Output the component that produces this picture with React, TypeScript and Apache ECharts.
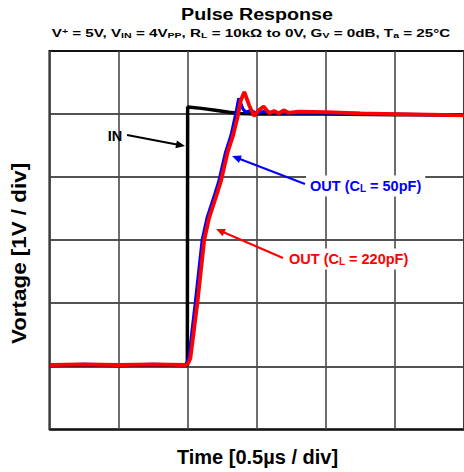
import React, { useEffect, useRef } from "react";
import * as echarts from "echarts";

// Axis ranges in divisions (x: 0.5 µs/div, y: 1 V/div)
const xDivs = [0, 1, 2, 3, 4, 5, 6];
const yDivs = [0, 1, 2, 3, 4, 5, 6];

// Input pulse (black)
const inputPulse: [number, number][] = [
  [0, 1.01], [0.5, 1.02], [1.0, 1.01], [1.5, 1.02], [1.995, 1.01],
  [2.0, 5.11], [2.2, 5.09], [2.4, 5.06], [2.6, 5.03], [2.75, 5.01],
  [3.0, 5.0], [4.0, 5.0], [5.0, 4.99], [6.0, 4.99],
];

// Output, CL = 50pF (blue)
const out50pF: [number, number][] = [
  [0, 1.02], [0.5, 1.03], [1.0, 1.02], [1.5, 1.03], [1.96, 1.02],
  [1.99, 1.06], [2.02, 1.15], [2.11, 2.0], [2.21, 3.0], [2.28, 3.35],
  [2.39, 3.72], [2.45, 3.93], [2.55, 4.4], [2.63, 4.67], [2.69, 4.97],
  [2.74, 5.25], [2.8, 5.08], [2.84, 5.03], [2.92, 5.06], [2.99, 5.01],
  [3.1, 5.04], [3.3, 5.02], [4.0, 5.02], [5.0, 5.0], [6.0, 4.98],
];

// Output, CL = 220pF (red)
const out220pF: [number, number][] = [
  [0, 1.02], [0.5, 1.03], [1.0, 1.02], [1.5, 1.03], [1.97, 1.02],
  [2.01, 1.05], [2.04, 1.13], [2.14, 2.0], [2.24, 3.0], [2.31, 3.35],
  [2.42, 3.72], [2.48, 3.93], [2.58, 4.4], [2.66, 4.67], [2.72, 4.94],
  [2.77, 5.22], [2.82, 5.35], [2.89, 5.14], [2.96, 4.97], [3.03, 5.06],
  [3.1, 5.12], [3.18, 5.01], [3.25, 5.05], [3.32, 5.01], [3.39, 5.06],
  [3.46, 5.02], [3.6, 5.04], [4.0, 5.03], [4.5, 5.01], [5.0, 5.0],
  [5.5, 4.99], [6.0, 4.98],
];

const titleText = "Pulse Response";
const subtitleText =
  "V{sup|+} = 5V, V{sub|IN} = 4V{sub|PP}, R{sub|L} = 10kΩ to 0V, G{sub|V} = 0dB, T{sub|a} = 25°C";
const xTitle = "Time [0.5µs / div]";
const yTitle = "Vortage [1V / div]";
const inLabel = "IN";
const out50Label = "OUT (C{sub|L} = 50pF)";
const out220Label = "OUT (C{sub|L} = 220pF)";

const FONT = "Liberation Sans, Arial, Helvetica, sans-serif";

function arrow(x1: number, y1: number, x2: number, y2: number, color: string) {
  const dx = x2 - x1;
  const dy = y2 - y1;
  const L = Math.hypot(dx, dy);
  const ux = dx / L;
  const uy = dy / L;
  const hl = 9;
  const hw = 4;
  const bx = x2 - ux * hl;
  const by = y2 - uy * hl;
  return [
    {
      type: "line",
      shape: { x1, y1, x2: bx + ux * 2, y2: by + uy * 2 },
      style: { stroke: color, lineWidth: 2 },
      z: 100,
    },
    {
      type: "polygon",
      shape: {
        points: [
          [x2, y2],
          [bx - uy * hw, by + ux * hw],
          [bx + uy * hw, by - ux * hw],
        ],
      },
      style: { fill: color },
      z: 100,
    },
  ];
}

function labelText(
  text: string,
  x: number,
  y: number,
  color: string,
  align: string,
  bg: boolean
) {
  return {
    type: "text",
    x,
    y,
    z: 100,
    style: {
      text,
      fill: color,
      font: `bold 14.5px ${FONT}`,
      align,
      textAlign: align,
      verticalAlign: "middle",
      textVerticalAlign: "middle",
      backgroundColor: bg ? "#fff" : undefined,
      padding: bg ? [3, 4, 3, 4] : 0,
      rich: {
        sub: {
          fontSize: 10,
          fontWeight: "bold",
          fontFamily: FONT,
          fill: color,
          lineHeight: 10,
          verticalAlign: "bottom",
        },
      },
    },
  };
}

export default function App() {
  const ref = useRef<HTMLDivElement>(null);

  useEffect(() => {
    if (!ref.current) return;
    const chart = echarts.init(ref.current, undefined, { renderer: "svg" });

    const option = {
      animation: false,
      backgroundColor: "#fff",
      grid: {
        left: 49.5,
        top: 51,
        width: 416.5,
        height: 378.3,
        show: true,
        borderColor: "#000",
        borderWidth: 2,
        backgroundColor: "transparent",
        containLabel: false,
      },
      xAxis: {
        type: "value",
        min: xDivs[0],
        max: xDivs[xDivs.length - 1],
        interval: 1,
        axisLine: { show: false },
        axisTick: { show: false },
        axisLabel: { show: false },
        splitLine: { show: true, lineStyle: { color: "#4a4a4a", width: 1.6 } },
      },
      yAxis: {
        type: "value",
        min: yDivs[0],
        max: yDivs[yDivs.length - 1],
        interval: 1,
        axisLine: { show: false },
        axisTick: { show: false },
        axisLabel: { show: false },
        splitLine: { show: true, lineStyle: { color: "#1a1a1a", width: 1.6 } },
      },
      series: [
        {
          type: "line",
          data: inputPulse,
          showSymbol: false,
          symbol: "none",
          lineStyle: { color: "#000", width: 3.5 },
          z: 3,
        },
        {
          type: "line",
          data: out50pF,
          showSymbol: false,
          symbol: "none",
          lineStyle: { color: "#0000ff", width: 3.2 },
          z: 4,
        },
        {
          type: "line",
          data: out220pF,
          showSymbol: false,
          symbol: "none",
          lineStyle: { color: "#ff0000", width: 3.8 },
          z: 5,
        },
      ],
      graphic: [
        {
          type: "text",
          x: 257,
          y: 15,
          scaleX: 1.23,
          style: {
            text: titleText,
            fill: "#000",
            font: `bold 16px ${FONT}`,
            align: "center",
            textAlign: "center",
            verticalAlign: "middle",
            textVerticalAlign: "middle",
          },
        },
        {
          type: "text",
          x: 251,
          y: 33,
          scaleX: 1.32,
          style: {
            text: subtitleText,
            fill: "#000",
            font: `bold 11.5px ${FONT}`,
            align: "center",
            textAlign: "center",
            verticalAlign: "middle",
            textVerticalAlign: "middle",
            rich: {
              sub: { fontSize: 8, fontWeight: "bold", fontFamily: FONT, lineHeight: 7, verticalAlign: "bottom" },
              sup: { fontSize: 8, fontWeight: "bold", fontFamily: FONT, lineHeight: 7, verticalAlign: "top" },
            },
          },
        },
        {
          type: "text",
          x: 257.5,
          y: 457,
          style: {
            text: xTitle,
            fill: "#000",
            font: `bold 20px ${FONT}`,
            align: "center",
            textAlign: "center",
            verticalAlign: "middle",
            textVerticalAlign: "middle",
          },
        },
        {
          type: "text",
          x: 18.5,
          y: 253.5,
          rotation: Math.PI / 2,
          scaleX: 1.12,
          style: {
            text: yTitle,
            fill: "#000",
            font: `bold 20px ${FONT}`,
            align: "center",
            textAlign: "center",
            verticalAlign: "middle",
            textVerticalAlign: "middle",
          },
        },
        labelText(inLabel, 115, 136, "#000", "center", false),
        ...arrow(127, 135, 185, 146, "#000"),
        labelText(out50Label, 306, 186, "#0000ff", "left", true),
        ...arrow(305, 184, 232, 156, "#0000ff"),
        labelText(out220Label, 285, 259, "#ff0000", "left", true),
        ...arrow(283, 258, 216, 229, "#ff0000"),
      ],
    };

    chart.setOption(option as any);
    return () => chart.dispose();
  }, []);

  return (
    <div
      ref={ref}
      style={{ position: "absolute", left: 0, top: 0, width: 464, height: 472 }}
    />
  );
}
